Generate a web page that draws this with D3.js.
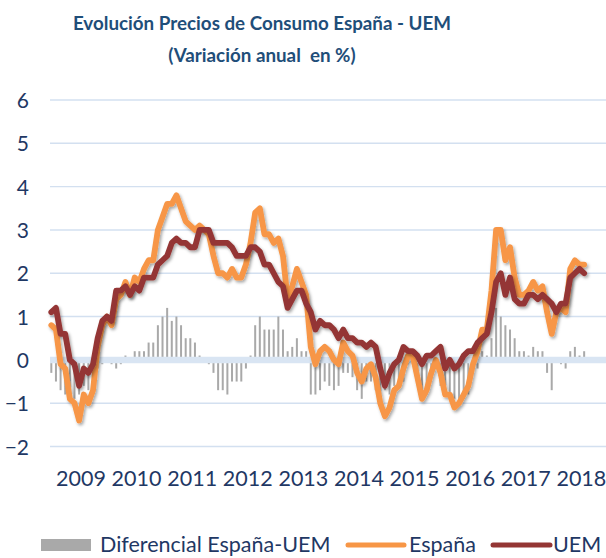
<!DOCTYPE html>
<html><head><meta charset="utf-8">
<script src="https://cdn.jsdelivr.net/npm/d3@7"></script>
<style>body{margin:0;background:#fff} svg{display:block}</style>
</head><body><svg id="c" width="606" height="558"></svg>
<script>
// Years shown on the axis (axis runs Jan 2009 - Dec 2018, data Jan 2009 - Aug 2018)
const years = ["2009","2010","2011","2012","2013","2014","2015","2016","2017","2018"];
const yTicks = [-2,-1,0,1,2,3,4,5,6];

// España (IPC, variación anual %), Jan 2009 - Aug 2018
const espana = [
  0.8, 0.7,-0.1,-0.2,-0.9,-1.0,-1.4,-0.8,-1.0,-0.7, 0.3, 0.8,
  1.0, 0.8, 1.4, 1.5, 1.8, 1.5, 1.9, 1.8, 2.1, 2.3, 2.3, 3.0,
  3.3, 3.6, 3.6, 3.8, 3.5, 3.2, 3.1, 3.0, 3.1, 3.0, 2.9, 2.4,
  2.0, 2.0, 1.9, 2.1, 1.9, 1.9, 2.2, 2.7, 3.4, 3.5, 2.9, 2.9,
  2.7, 2.8, 2.4, 1.4, 1.7, 2.1, 1.8, 1.5, 0.3,-0.1, 0.2, 0.3,
  0.2, 0.0,-0.1, 0.4, 0.2, 0.1,-0.3,-0.5,-0.2,-0.1,-0.4,-1.0,
 -1.3,-1.1,-0.7,-0.6,-0.2, 0.1, 0.1,-0.4,-0.9,-0.7,-0.3, 0.0,
 -0.3,-0.8,-0.8,-1.1,-1.0,-0.8,-0.6,-0.1, 0.2, 0.7, 0.7, 1.6,
  3.0, 3.0, 2.3, 2.6, 1.9, 1.5, 1.5, 1.6, 1.8, 1.6, 1.7, 1.1,
  0.6, 1.1, 1.2, 1.1, 2.1, 2.3, 2.2, 2.2
];
// UEM (IPCA, variación anual %)
const uem = [
  1.1, 1.2, 0.6, 0.6, 0.0,-0.1,-0.6,-0.2,-0.3,-0.1, 0.5, 0.9,
  1.0, 0.9, 1.6, 1.6, 1.7, 1.5, 1.7, 1.6, 1.9, 1.9, 1.9, 2.2,
  2.3, 2.4, 2.7, 2.8, 2.7, 2.7, 2.6, 2.6, 3.0, 3.0, 3.0, 2.7,
  2.7, 2.7, 2.7, 2.6, 2.4, 2.4, 2.4, 2.6, 2.6, 2.5, 2.2, 2.2,
  2.0, 1.8, 1.7, 1.2, 1.4, 1.6, 1.6, 1.3, 1.1, 0.7, 0.9, 0.8,
  0.8, 0.7, 0.5, 0.7, 0.5, 0.5, 0.4, 0.4, 0.3, 0.4, 0.3,-0.2,
 -0.6,-0.3,-0.1, 0.0, 0.3, 0.2, 0.2, 0.1,-0.1, 0.1, 0.1, 0.2,
  0.3,-0.2, 0.0,-0.2,-0.1, 0.1, 0.2, 0.2, 0.4, 0.5, 0.6, 1.1,
  1.8, 2.0, 1.5, 1.9, 1.4, 1.3, 1.3, 1.5, 1.5, 1.4, 1.5, 1.4,
  1.3, 1.1, 1.3, 1.3, 1.9, 2.0, 2.1, 2.0
];
// Diferencial España-UEM (puntos)
const diferencial = [
 -0.3,-0.5,-0.7,-0.8,-0.9,-0.9,-0.8,-0.6,-0.7,-0.6,-0.2,-0.1,
  0.0,-0.1,-0.2,-0.1, 0.1, 0.0, 0.2, 0.2, 0.2, 0.4, 0.4, 0.8,
  1.0, 1.2, 0.9, 1.0, 0.8, 0.5, 0.5, 0.4, 0.1, 0.0,-0.1,-0.3,
 -0.7,-0.7,-0.8,-0.5,-0.5,-0.5,-0.2, 0.1, 0.8, 1.0, 0.7, 0.7,
  0.7, 1.0, 0.7, 0.2, 0.3, 0.5, 0.2, 0.2,-0.8,-0.8,-0.7,-0.5,
 -0.6,-0.7,-0.6,-0.3,-0.3,-0.4,-0.7,-0.9,-0.5,-0.5,-0.7,-0.8,
 -0.7,-0.8,-0.6,-0.6,-0.5,-0.1,-0.1,-0.5,-0.8,-0.8,-0.4,-0.2,
 -0.6,-0.6,-0.8,-0.9,-0.9,-0.9,-0.8,-0.3,-0.2, 0.2, 0.1, 0.5,
  1.2, 1.0, 0.8, 0.7, 0.5, 0.2, 0.2, 0.1, 0.3, 0.2, 0.2,-0.3,
 -0.7, 0.0,-0.1,-0.2, 0.2, 0.3, 0.1, 0.2
];

const meses = d3.timeMonth.range(new Date(2009,0,1), new Date(2019,0,1));

const svg = d3.select("#c");
const navy = "#1F3864";

const defs = svg.append("defs");
const f = defs.append("filter").attr("id","sh").attr("x","-10%").attr("y","-10%").attr("width","120%").attr("height","130%");
f.append("feDropShadow").attr("dx",1.5).attr("dy",2).attr("stdDeviation",1.6)
  .attr("flood-color","#000").attr("flood-opacity",0.35);

const x = d3.scaleBand().domain(d3.range(meses.length)).range([49, 605]).paddingInner(0);
const cx = i => x(i) + x.bandwidth()/2;
const y = d3.scaleLinear().domain([-2, 6]).range([446.5, 100]);

// gridlines
svg.append("g").selectAll("line").data(yTicks.filter(d => d !== 0)).join("line")
  .attr("x1", 50).attr("x2", 606)
  .attr("y1", d => y(d)).attr("y2", d => y(d))
  .attr("stroke", "#D3E0F0").attr("stroke-width", 1.4);

// y labels
const yAxis = d3.axisLeft(y).tickValues(yTicks).tickSize(0).tickPadding(0).tickFormat(d3.format("d"));
const ga = svg.append("g").attr("transform", "translate(29,0)").call(yAxis);
ga.select(".domain").remove();
ga.selectAll("text").attr("fill", navy).attr("font-family", "Lato, sans-serif").attr("font-size", 21).attr("dy","0.36em");

// bars
svg.append("g").selectAll("rect").data(diferencial).join("rect")
  .attr("x", (d,i) => cx(i) - 1)
  .attr("width", 2)
  .attr("y", d => d >= 0 ? y(d) : y(0))
  .attr("height", d => Math.abs(y(d) - y(0)))
  .attr("fill", "#A9A9A9");

// zero band
svg.append("line").attr("x1", 50).attr("x2", 606).attr("y1", y(0)).attr("y2", y(0))
  .attr("stroke", "#D9E5F3").attr("stroke-width", 6.5);

// lines
const line = d3.line().x((d,i) => cx(i)).y(d => y(d));
svg.append("path").datum(espana).attr("d", line).attr("fill","none")
  .attr("stroke", "#F79646").attr("stroke-width", 5.8).attr("stroke-linejoin","round").attr("stroke-linecap","round")
  .attr("filter","url(#sh)");
svg.append("path").datum(uem).attr("d", line).attr("fill","none")
  .attr("stroke", "#943634").attr("stroke-width", 5.8).attr("stroke-linejoin","round").attr("stroke-linecap","round")
  .attr("filter","url(#sh)");

// x labels (centered mid-year)
svg.append("g").selectAll("text").data(years).join("text")
  .attr("x", (d,i) => x(i*12 + 6) + x.bandwidth()*0.9)
  .attr("y", 485.5)
  .attr("text-anchor", "middle")
  .attr("fill", navy).attr("font-family", "Lato, sans-serif").attr("font-size", 21.5)
  .text(d => d);

// title
const t = svg.append("text").attr("text-anchor","middle").attr("fill","#1F4E79")
  .attr("font-family","Lato, sans-serif").attr("font-weight","bold").attr("font-size",18.8)
  .style("white-space","pre");
t.append("tspan").attr("x",262).attr("y",30).text("Evolución Precios de Consumo España - UEM");
t.append("tspan").attr("x",262).attr("y",62).text("(Variación anual  en %)");

// legend
const lg = svg.append("g").attr("font-family","Lato, sans-serif").attr("font-size",21.5).attr("fill",navy);
lg.append("rect").attr("x",41).attr("y",539).attr("width",50).attr("height",12).attr("fill","#A9A9A9");
lg.append("text").attr("x",100).attr("y",552).text("Diferencial España-UEM");
lg.append("line").attr("x1",348).attr("x2",404).attr("y1",545).attr("y2",545).attr("stroke","#F79646").attr("stroke-width",5).attr("stroke-linecap","round");
lg.append("text").attr("x",409).attr("y",552).text("España");
lg.append("line").attr("x1",493).attr("x2",550).attr("y1",545).attr("y2",545).attr("stroke","#943634").attr("stroke-width",5).attr("stroke-linecap","round");
lg.append("text").attr("x",553).attr("y",552).text("UEM");
</script></body></html>
